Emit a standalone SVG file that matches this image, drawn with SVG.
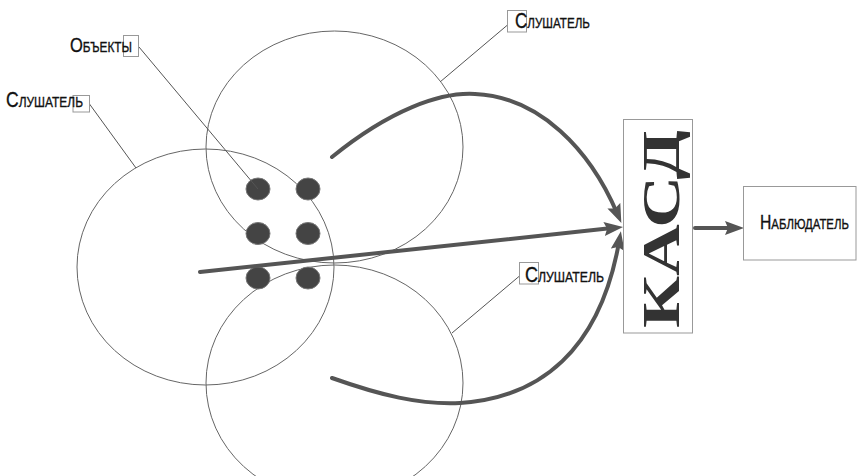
<svg xmlns="http://www.w3.org/2000/svg" width="857" height="476" viewBox="0 0 857 476">
<style>
.ring{fill:none;stroke:#666;stroke-width:1}
.dot{fill:#444;stroke:#777;stroke-width:1}
.lead{fill:none;stroke:#555;stroke-width:1}
.cbox{fill:none;stroke:#999;stroke-width:1}
.lbl{font-family:"Liberation Sans",Arial,sans-serif;font-variant:small-caps;fill:#111;stroke:#111;stroke-width:0.35}
.arr{fill:none;stroke:#555;stroke-width:4;stroke-linecap:round}
.box{fill:#fff;stroke:#999;stroke-width:1}
</style>
<defs>
<marker id="ah" markerUnits="userSpaceOnUse" markerWidth="20" markerHeight="14" refX="8" refY="7" orient="auto" viewBox="0 0 20 14">
<path d="M0,0 L19,7 L0,14 L3,7 z" fill="#555"/>
</marker>
</defs>
<rect width="857" height="476" fill="#fff"/>
<g id="listeners">
<ellipse id="ring-left" class="ring" cx="205.5" cy="267" rx="128.5" ry="118"/>
<ellipse id="ring-top" class="ring" cx="334.5" cy="147" rx="128.5" ry="116"/>
<ellipse id="ring-bottom" class="ring" cx="334.5" cy="383" rx="128.5" ry="118"/>
</g>
<g id="objects">
<ellipse class="dot" cx="258" cy="189" rx="12" ry="11"/>
<ellipse class="dot" cx="308" cy="189" rx="12" ry="11"/>
<ellipse class="dot" cx="258" cy="233.5" rx="12" ry="11"/>
<ellipse class="dot" cx="308" cy="233.5" rx="12" ry="11"/>
<ellipse class="dot" cx="258" cy="278" rx="12" ry="11"/>
<ellipse class="dot" cx="308" cy="278" rx="12" ry="11"/>
</g>
<g id="callouts">
<g id="label-objects">
<line class="lead" x1="139" y1="47" x2="258" y2="189"/>
<rect class="cbox" x="123.5" y="35.5" width="15" height="21"/>
<text class="lbl" x="70" y="52" font-size="21" textLength="62" lengthAdjust="spacingAndGlyphs">Объекты</text>
</g>
<g id="label-listener-left">
<line class="lead" x1="89.5" y1="104" x2="136" y2="168"/>
<rect class="cbox" x="73" y="95.5" width="16.5" height="16.5"/>
<text class="lbl" x="6" y="107" font-size="22" textLength="77" lengthAdjust="spacingAndGlyphs">Слушатель</text>
</g>
<g id="label-listener-top">
<line class="lead" x1="507.5" y1="25" x2="440" y2="82"/>
<rect class="cbox" x="507.5" y="10.5" width="19" height="21.5"/>
<text class="lbl" x="515" y="28" font-size="22" textLength="75" lengthAdjust="spacingAndGlyphs">Слушатель</text>
</g>
<g id="label-listener-bottom">
<line class="lead" x1="519.5" y1="276" x2="452" y2="333"/>
<rect class="cbox" x="519.5" y="262.5" width="19" height="21.5"/>
<text class="lbl" x="525" y="282" font-size="22" textLength="79" lengthAdjust="spacingAndGlyphs">Слушатель</text>
</g>
</g>
<g id="connectors">
<path class="arr" d="M200,272 L612.1,228.1" marker-end="url(#ah)"/>
<path class="arr" d="M332,157 C390,110 440,92 475,94 C540,97 590,150 617,213" marker-end="url(#ah)"/>
<path class="arr" d="M332,378 C380,395 420,405 460,403 C540,398 600,350 619,242" marker-end="url(#ah)"/>
<path class="arr" d="M695,228 L733,228" marker-end="url(#ah)"/>
</g>
<g id="kasd">
<rect class="box" x="623.5" y="119.5" width="69" height="213.5"/>
<text transform="translate(679,229) rotate(-90)" text-anchor="middle" font-family="'Liberation Serif','Times New Roman',serif" font-weight="bold" font-size="52" fill="#333" textLength="198" lengthAdjust="spacingAndGlyphs">КАСД</text>
</g>
<g id="observer">
<rect class="box" x="743.5" y="186.5" width="112.5" height="73.5"/>
<text class="lbl" transform="translate(760,229) scale(0.78,1)" x="0" y="0" font-size="20" textLength="114" lengthAdjust="spacingAndGlyphs">Наблюдатель</text>
</g>
</svg>
